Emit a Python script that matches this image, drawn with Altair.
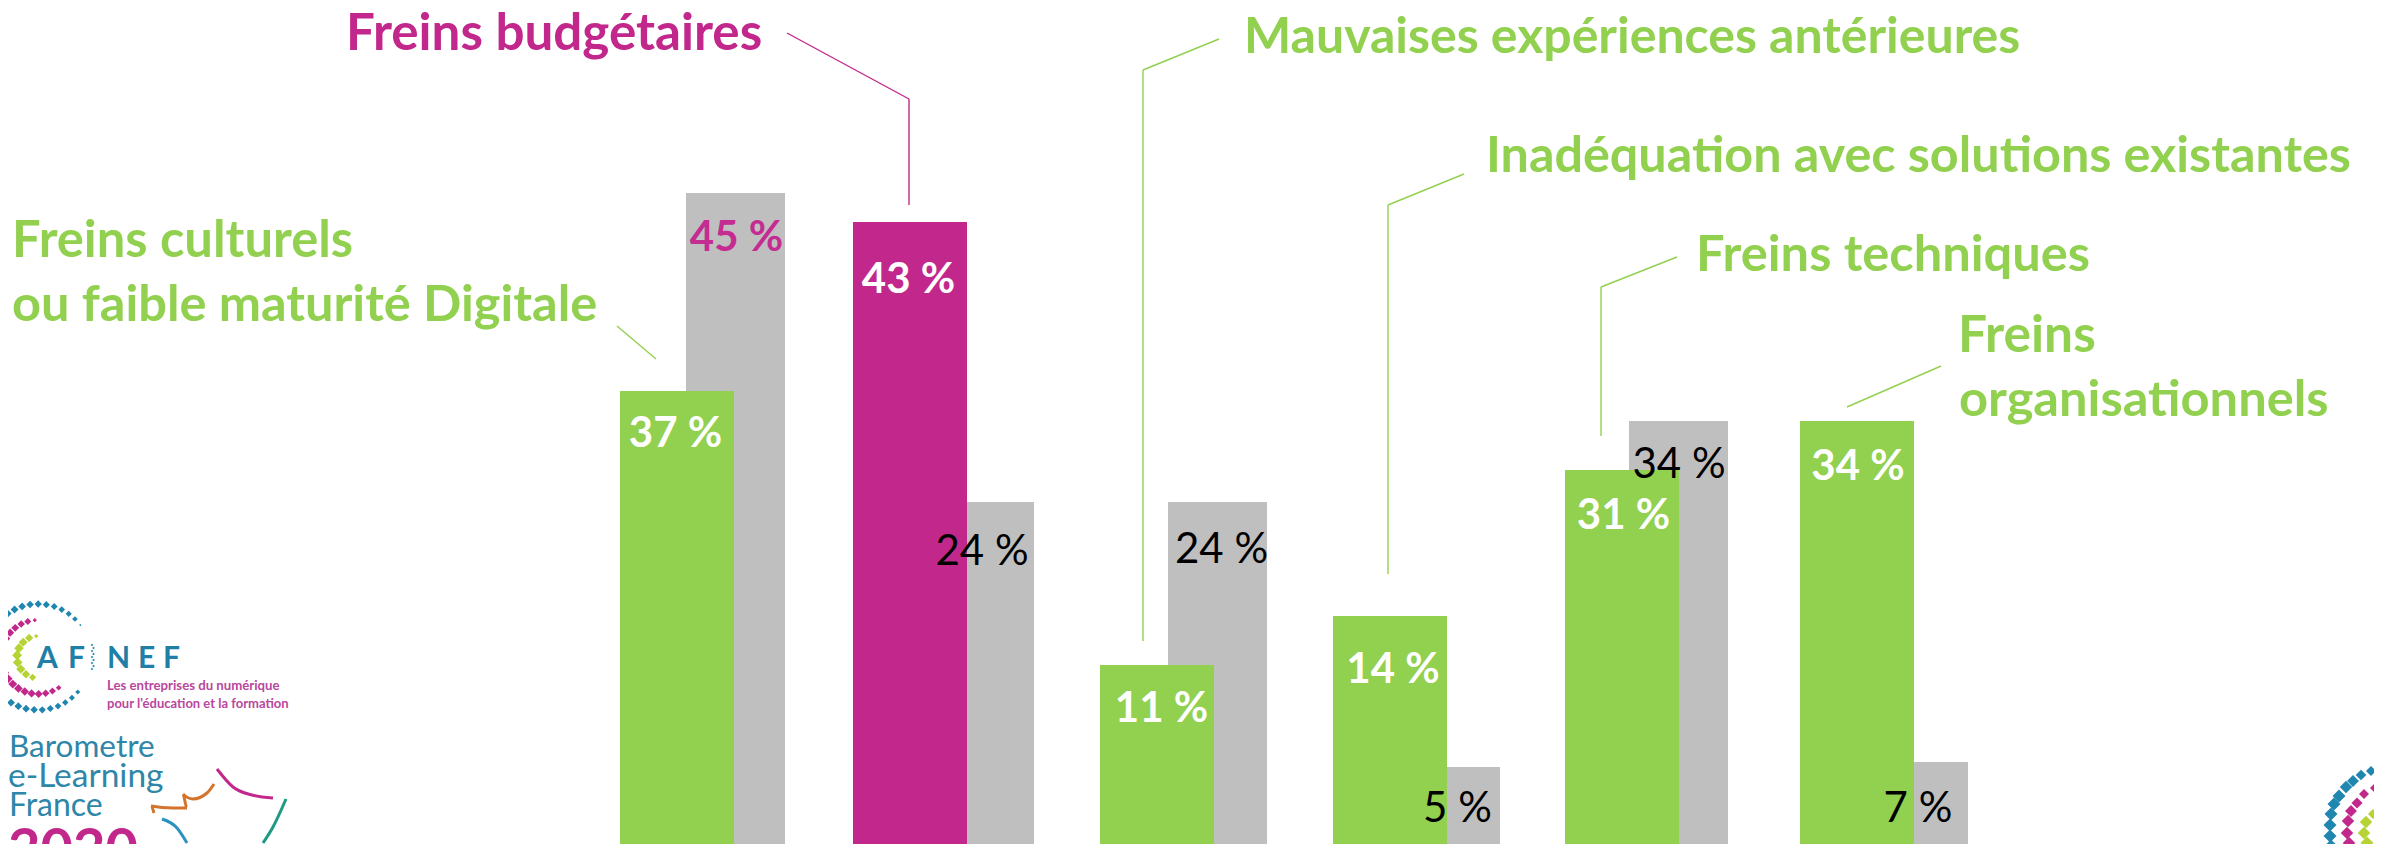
import altair as alt
import numpy as np
import pandas as pd

# ---- chart values -------------------------------------------------------
categories = ["Freins culturels ou faible maturité Digitale", "Freins budgétaires",
              "Mauvaises expériences antérieures", "Inadéquation avec solutions existantes",
              "Freins techniques", "Freins organisationnels"]
green_values = [37, 43, 11, 14, 31, 34]
gray_values = [45, 24, 24, 5, 34, 7]
highlight = "Freins budgétaires"

GREEN, MAGENTA, GRAY = "#92D050", "#C2288C", "#BFBFBF"
BLUE = "#2E86A8"

# ---- layout of the (hand-placed, non-linear) source picture -------------
W, H = 2366, 836
def px(v): return v - 8
def py(v): return v - 8

# slot 0,1,2.. = main bar of each group; slot 0.5,1.5.. = grey bar behind it
x_domain = [0, .5, 1, 1.5, 2, 2.5, 3, 3.5, 4, 4.5, 5, 5.5]
x_range = [px(v) for v in (677, 735.5, 910, 984.5, 1157, 1217.5, 1390, 1450.5, 1622, 1678.5, 1857, 1918.5)]
x_scale = alt.Scale(type="linear", domain=x_domain, range=x_range, zero=False, nice=False, padding=0)
y_domain = [0, 5, 7, 11, 14, 24, 31, 34, 37, 43, 45]
y_range = [py(v) for v in (844, 767, 762, 665, 616, 502, 470, 421, 391, 222, 193)]
y_scale = alt.Scale(type="linear", domain=y_domain, range=y_range, zero=False, nice=False, padding=0)

X = alt.X("slot:Q", scale=x_scale, axis=None)
Y = alt.Y("value:Q", scale=y_scale, axis=None, stack=None)

main_df = pd.DataFrame({"cat": categories, "slot": [float(i) for i in range(6)], "value": green_values})
gray_df = pd.DataFrame({"cat": categories, "slot": [i + .5 for i in range(6)], "value": gray_values})

layers = []
layers.append(alt.Chart(gray_df).mark_bar(width=99, color=GRAY, clip=True, orient="vertical").encode(x=X, y=Y))
layers.append(alt.Chart(main_df).mark_bar(width=114, clip=True, orient="vertical").encode(
    x=X, y=Y,
    color=alt.condition(alt.datum.cat == highlight, alt.value(MAGENTA), alt.value(GREEN))))

# value labels: (dx, dy) from the top centre of the bar, colour, weight
main_lab = [(-1.5, 56), (-1.5, 71), (4.5, 57), (3, 67), (1.5, 59), (1, 59)]
gray_lab = [(1, 58, "#C42C92", "bold"), (-2.5, 63, "black", "normal"), (4, 61, "black", "normal"),
            (7, 55, "black", "normal"), (0.5, 57, "black", "normal"), (-0.5, 60, "black", "normal")]
NUM_FONT = "Lato"
for i in range(6):
    dx, dy, col, wt = gray_lab[i]
    d = gray_df.iloc[[i]].assign(label=f"{gray_values[i]} %")
    layers.append(alt.Chart(d).mark_text(font=NUM_FONT, fontSize=42, fontWeight=wt, color=col, dx=dx, dy=dy,
                                         baseline="alphabetic", align="center").encode(x=X, y=Y, text="label:N"))
for i in range(6):
    dx, dy = main_lab[i]
    d = main_df.iloc[[i]].assign(label=f"{green_values[i]} %")
    layers.append(alt.Chart(d).mark_text(font=NUM_FONT, fontSize=42, fontWeight="bold", color="white", dx=dx, dy=dy,
                                         baseline="alphabetic", align="center").encode(x=X, y=Y, text="label:N"))

one = pd.DataFrame({"k": [0]})
def text(s, x, y, size, color, font="Lato", weight="normal", align="left", clip=False):
    return alt.Chart(one).mark_text(font=font, fontSize=size, fontWeight=weight, color=color, align=align,
                                    baseline="alphabetic", clip=clip).encode(
        x=alt.value(px(x)), y=alt.value(py(y)), text=alt.value(s))
def seg(x1, y1, x2, y2, color, w=1.4):
    return alt.Chart(one).mark_rule(color=color, strokeWidth=w).encode(
        x=alt.value(px(x1)), x2=alt.value(px(x2)), y=alt.value(py(y1)), y2=alt.value(py(y2)))

# ---- annotations --------------------------------------------------------
ANN_FONT, ANN_W = "Lato", "bold"
ann = [("Freins budgétaires", 346, 50, MAGENTA, 51.2),
       ("Freins culturels", 12, 257, GREEN, 50.7),
       ("ou faible maturité Digitale", 12, 321, GREEN, 50.5),
       ("Mauvaises expériences antérieures", 1244, 53, GREEN, 50),
       ("Inadéquation avec solutions existantes", 1486, 172, GREEN, 50.3),
       ("Freins techniques", 1696, 271, GREEN, 50.6),
       ("Freins", 1958, 352, GREEN, 51.5),
       ("organisationnels", 1959, 416, GREEN, 50.6)]
for s, x, y, c, size in ann:
    layers.append(text(s, x, y, size, c, ANN_FONT, ANN_W))
for poly, c in [([(787, 33), (909, 99), (909, 205)], MAGENTA),
                ([(617, 326), (656, 359)], GREEN),
                ([(1219, 39), (1143, 70), (1143, 641)], GREEN),
                ([(1464, 174), (1388, 205), (1388, 574)], GREEN),
                ([(1677, 257), (1601, 287), (1601, 436)], GREEN),
                ([(1941, 366), (1847, 407)], GREEN)]:
    for a, b in zip(poly[:-1], poly[1:]):
        layers.append(seg(a[0], a[1], b[0], b[1], c))

# ---- logos (decoration) -------------------------------------------------
def ring(cx, cy, r, a0, a1, step, smin, smax, color):
    rows = []
    angs = np.arange(a0, a1 + .01, step)
    mid = (a0 + a1) / 2
    for a in angs:
        t = 1 - abs(a - mid) / ((a1 - a0) / 2)
        rows.append({"x": px(cx + r * np.cos(np.radians(a))), "y": py(cy - r * np.sin(np.radians(a))),
                     "s": smin + (smax - smin) * t ** .35, "c": color})
    return rows
dots = ring(38, 657, 53, 37, 323, 8.8, 5, 75, "#1F86B0") \
     + ring(38, 657, 37, 95, 305, 11, 18, 85, "#C2288C") \
     + ring(38, 657, 21, 95, 262, 20, 18, 100, "#B5D334")
dots += [{"x": px(92 + 1.5 * (k % 2)), "y": py(645 + k * 3), "s": 7, "c": "#1F86B0"} for k in range(9)]
right = [(2380, 768, 100, "#1F86B0"), (2371, 771, 100, "#1F86B0"), (2361, 775, 115, "#1F86B0"), (2353, 781, 140, "#1F86B0"),
         (2346, 787, 155, "#1F86B0"), (2339, 796, 170, "#1F86B0"), (2334, 804, 170, "#1F86B0"), (2331, 814, 170, "#1F86B0"),
         (2330, 825, 170, "#1F86B0"), (2330, 836, 170, "#1F86B0"), (2331, 846, 170, "#1F86B0"),
         (2374, 788, 65, "#C2288C"), (2364, 794, 100, "#C2288C"), (2357, 803, 125, "#C2288C"), (2351, 811, 140, "#C2288C"),
         (2348, 821, 155, "#C2288C"), (2347, 833, 155, "#C2288C"), (2349, 843, 155, "#C2288C"),
         (2382, 807, 85, "#B5D334"), (2373, 814, 100, "#B5D334"), (2366, 822, 155, "#B5D334"),
         (2364, 833, 155, "#B5D334"), (2367, 843, 170, "#B5D334")]
dots += [{"x": px(a), "y": py(b), "s": s, "c": c} for a, b, s, c in right]
layers.append(alt.Chart(pd.DataFrame(dots)).mark_point(shape="diamond", filled=True, opacity=1, clip=True).encode(
    x=alt.X("x:Q", scale=None, axis=None), y=alt.Y("y:Q", scale=None, axis=None),
    size=alt.Size("s:Q", scale=None), color=alt.Color("c:N", scale=None)))

for ch, x in [("A", 37), ("F", 68), ("N", 107), ("E", 138), ("F", 163)]:
    layers.append(text(ch, x, 668, 30, "#1F7FA6", "Lato", "bold"))
layers.append(text("Les entreprises du numérique", 107, 690, 13.2, "#B9479D", "Lato", "bold"))
layers.append(text("pour l'éducation et la formation", 107, 708, 13, "#B9479D", "Lato", "bold"))
layers.append(text("Barometre", 9, 757, 31.5, BLUE, "Lato", "normal"))
layers.append(text("e-Learning", 8, 787, 33.5, BLUE, "Lato", "normal"))
layers.append(text("France", 9, 816, 32, BLUE, "Lato", "normal"))
layers.append(text("2020", 8, 868, 56, "#C2288C", "Lato", "bold", clip=True))

swooshes = [("#C2288C", [(217, 769), (233, 787), (252, 795), (273, 798)]),
            ("#D4742C", [(214, 784), (207, 793), (193, 799), (183, 794), (187, 808), (173, 808), (151, 806), (154, 813)]),
            ("#1E9A82", [(286, 799), (273, 827), (263, 843)]),
            ("#2A93BE", [(162, 819), (177, 828), (187, 843)])]
for c, pts in swooshes:
    d = pd.DataFrame({"x": [px(p[0]) for p in pts], "y": [py(p[1]) for p in pts], "o": list(range(len(pts)))})
    layers.append(alt.Chart(d).mark_line(color=c, strokeWidth=3, interpolate="monotone", clip=True).encode(
        x=alt.X("x:Q", scale=None, axis=None), y=alt.Y("y:Q", scale=None, axis=None), order="o:Q"))

chart = alt.layer(*layers).resolve_scale(x="independent", y="independent").properties(
    width=W, height=H, padding=0, autosize=alt.AutoSizeParams(type="none"), background="white"
).configure_view(strokeWidth=0)

chart.save("out.html", embed_options={"renderer": "svg", "actions": False})
